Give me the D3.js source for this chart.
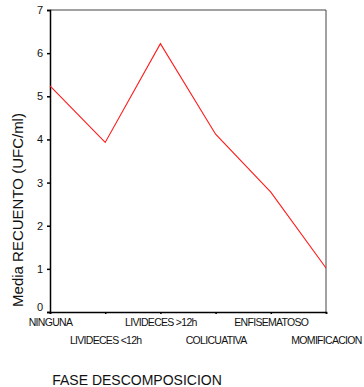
<!DOCTYPE html>
<html>
<head>
<meta charset="utf-8">
<script src="https://cdn.jsdelivr.net/npm/d3@7/dist/d3.min.js"></script>
<style>
  body { margin: 0; background: #fff; }
  text { font-family: "Liberation Sans", Arial, sans-serif; fill: #111; }
</style>
</head>
<body>
<div id="chart"></div>
<script>
  // categories and mean values
  var categories = ['NINGUNA', 'LIVIDECES <12h', 'LIVIDECES >12h', 'COLICUATIVA', 'ENFISEMATOSO', 'MOMIFICACION'];
  var meanValues = [5.24, 3.93, 6.22, 4.12, 2.78, 1.02];
  var yTicks = [0, 1, 2, 3, 4, 5, 6, 7];

  var svgWidth = 364;
  var svgHeight = 387;
  var margin = { left: 50, top: 10, right: 38, bottom: 75 };
  var plotW = svgWidth - margin.left - margin.right;
  var plotH = svgHeight - margin.top - margin.bottom;

  var svg = d3.select('#chart').append('svg')
    .attr('width', svgWidth)
    .attr('height', svgHeight);

  var g = svg.append('g')
    .attr('transform', 'translate(' + margin.left + ',' + margin.top + ')');

  var xScale = d3.scalePoint()
    .domain(categories)
    .range([0, plotW]);

  var yScale = d3.scaleLinear()
    .domain([0, 7])
    .range([plotH, 0]);

  // frame top + right
  g.append('path')
    .attr('d', 'M0,0H' + plotW + 'V' + plotH)
    .attr('fill', 'none')
    .attr('stroke', '#444')
    .attr('stroke-width', 1);

  // y axis
  var yAxis = g.append('g')
    .call(d3.axisLeft(yScale).tickValues(yTicks).tickSize(3).tickPadding(4).tickFormat(d3.format('d')));
  yAxis.select('.domain').attr('stroke', '#000').attr('stroke-width', 1.5);
  yAxis.selectAll('.tick line').attr('stroke', '#000').attr('stroke-width', 1.5);
  yAxis.selectAll('.tick text')
    .attr('font-size', 11)
    .attr('fill', '#111')
    // the "0" sits a bit above its tick so it clears the x labels
    .attr('y', function(d) { return d === 0 ? -5 : 0; });

  // x axis, labels staggered in two rows
  var xAxis = g.append('g')
    .attr('transform', 'translate(0,' + plotH + ')')
    .call(d3.axisBottom(xScale).tickSize(2).tickPadding(4));
  xAxis.select('.domain').attr('stroke', '#000').attr('stroke-width', 1.5);
  xAxis.selectAll('.tick line').attr('stroke', '#000').attr('stroke-width', 1.5);
  xAxis.selectAll('.tick text')
    .attr('font-size', 10.5)
    .attr('letter-spacing', -0.7)
    .attr('fill', '#111')
    .attr('y', function(d, i) { return i % 2 === 0 ? 7 : 25; });

  // the line
  var line = d3.line()
    .x(function(d, i) { return xScale(categories[i]); })
    .y(function(d) { return yScale(d); });

  g.append('path')
    .datum(meanValues)
    .attr('d', line)
    .attr('fill', 'none')
    .attr('stroke', '#ff1a1a')
    .attr('stroke-width', 1.1);

  // titles
  svg.append('text')
    .attr('x', 137)
    .attr('y', 385)
    .attr('text-anchor', 'middle')
    .attr('font-size', 14)
    .text('FASE DESCOMPOSICION');

  svg.append('text')
    .attr('transform', 'translate(23,210) rotate(-90)')
    .attr('text-anchor', 'middle')
    .attr('font-size', 15)
    .text('Media RECUENTO (UFC/ml)');
</script>
</body>
</html>
